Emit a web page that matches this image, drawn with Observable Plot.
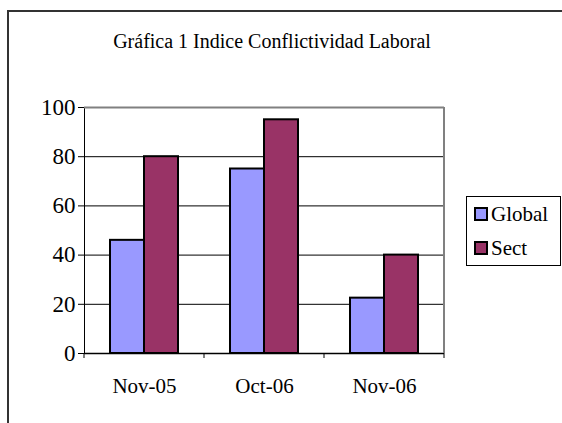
<!DOCTYPE html>
<html>
<head>
<meta charset="utf-8">
<script src="https://cdn.jsdelivr.net/npm/d3@7"></script>
<script src="https://cdn.jsdelivr.net/npm/@observablehq/plot@0.6"></script>
<style>
  html, body { margin: 0; padding: 0; background: #fff; }
  #wrap { position: relative; width: 562px; height: 423px; overflow: hidden; font-family: "Liberation Serif", serif; color: #000; }
  #frame { position: absolute; left: 7px; top: 10px; width: 620px; height: 480px; border: 2px solid #333; box-sizing: border-box; }
  #title { position: absolute; left: 0; top: 30px; width: 544px; text-align: center; font-size: 20px; line-height: 22px; }
  #chart { position: absolute; left: 0; top: 0; }
  #chart svg, #chart svg text { font-family: "Liberation Serif", serif !important; }
  #chart svg g[aria-label="y-axis tick label"] { font-size: 23px; }
  #legend { position: absolute; left: 466px; top: 196px; width: 95px; height: 70px; border: 1px solid #000; box-sizing: border-box; background: #fff; font-size: 21px; display: flex; flex-direction: column; justify-content: space-between; padding: 6px 0 6px 7px; }
  .row { display: flex; align-items: center; line-height: 22px; }
  .sw { display: inline-block; width: 10px; height: 10px; border: 2px solid #000; margin-right: 3px; }
</style>
</head>
<body>
<div id="wrap">
  <div id="frame"></div>
  <div id="chart"></div>
  <div id="title"></div>
  <div id="legend"></div>
</div>
<script>
const titleText = "Gráfica 1 Indice Conflictividad Laboral";
const categories = ["Nov-05", "Oct-06", "Nov-06"];
const series = ["Global", "Sect"];
const globalValues = [46, 75, 22.5];
const sectValues = [80, 95, 40];
const yTicks = [0, 20, 40, 60, 80, 100];
const colors = ["#9999FF", "#993366"];

const data = [];
categories.forEach((c, i) => {
  data.push({date: c, series: "Global", value: globalValues[i]});
  data.push({date: c, series: "Sect", value: sectValues[i]});
});

const chart = Plot.plot({
  width: 562,
  height: 423,
  marginLeft: 83,
  marginRight: 118,
  marginTop: 107,
  marginBottom: 70,
  style: {fontFamily: "Liberation Serif", fontSize: "21px", color: "#000", background: "transparent", overflow: "visible"},
  fx: {domain: categories, padding: 0, label: null, axis: "bottom", tickSize: 0, tickPadding: 25},
  x: {domain: series, paddingInner: 0, paddingOuter: 0.74, axis: null},
  y: {domain: [0, 100], ticks: yTicks, tickSize: 6, tickPadding: 3, label: null, line: true},
  color: {domain: series, range: colors},
  marks: [
    Plot.ruleY(yTicks.filter(t => t > 0 && t < 100), {stroke: "#000", strokeWidth: 1}),
    Plot.ruleY([100], {stroke: "#808080", strokeWidth: 2}),
    Plot.barY(data, {fx: "date", x: "series", y: "value", fill: "series", stroke: "#000", strokeWidth: 2}),
    Plot.ruleY([0], {stroke: "#000", strokeWidth: 1.5})
  ]
});
document.getElementById("chart").appendChild(chart);

// axis details: category boundary ticks and right plot border, from the library's scales
const fx = chart.scale("fx");
const y = chart.scale("y");
const bounds = categories.map(c => fx.apply(c)).concat([fx.apply(categories[categories.length - 1]) + fx.bandwidth]);
const svg = d3.select(chart.tagName.toLowerCase() === "svg" ? chart : chart.querySelector("svg"));
const g = svg.append("g");
g.append("line")
  .attr("x1", bounds[bounds.length - 1]).attr("x2", bounds[bounds.length - 1])
  .attr("y1", y.apply(100)).attr("y2", y.apply(0))
  .attr("stroke", "#808080").attr("stroke-width", 2);
g.selectAll("line.bt").data(bounds).join("line")
  .attr("class", "bt")
  .attr("x1", d => d).attr("x2", d => d)
  .attr("y1", y.apply(0)).attr("y2", y.apply(0) + 5)
  .attr("stroke", "#000").attr("stroke-width", 1);

document.getElementById("title").textContent = titleText;
const legend = document.getElementById("legend");
series.forEach((s, i) => {
  const row = document.createElement("div");
  row.className = "row";
  const sw = document.createElement("span");
  sw.className = "sw";
  sw.style.background = colors[i];
  row.appendChild(sw);
  row.appendChild(document.createTextNode(s));
  legend.appendChild(row);
});
</script>
</body>
</html>
